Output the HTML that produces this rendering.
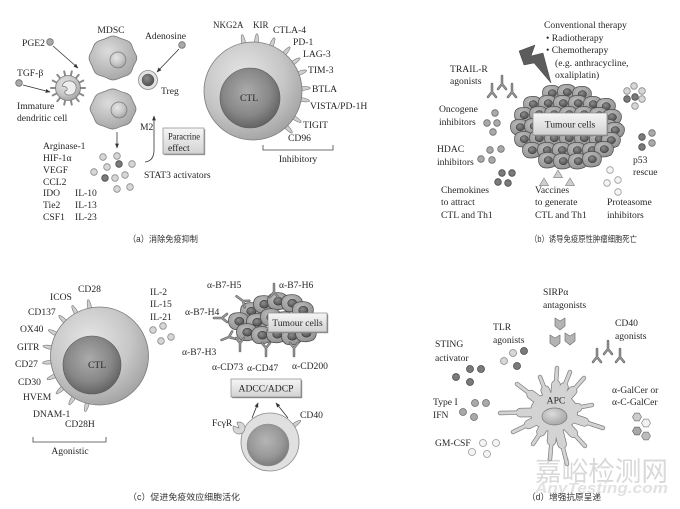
<!DOCTYPE html>
<html><head><meta charset="utf-8">
<style>
html,body{margin:0;padding:0;background:#fff;}
svg{display:block;}
text{font-family:"Liberation Serif","Noto Serif CJK SC",serif;font-size:9.6px;fill:#262626;}
.cap{font-family:"Liberation Sans","Noto Sans CJK SC",sans-serif;font-size:8.8px;fill:#333;}
.L{fill:#d6d6d6;stroke:#8a8a8a;stroke-width:.8}
.M{fill:#a9a9a9;stroke:#6e6e6e;stroke-width:.8}
.D{fill:#7a7a7a;stroke:#4a4a4a;stroke-width:.8}
.W{fill:#f4f4f4;stroke:#9a9a9a;stroke-width:.8}
.ln{fill:none;stroke:#333;stroke-width:.8}
</style></head><body>
<svg width="680" height="509" viewBox="0 0 680 509" xmlns="http://www.w3.org/2000/svg">
<defs>
 <radialGradient id="go" cx="0.4" cy="0.35" r="0.7">
  <stop offset="0" stop-color="#e6e6e6"/><stop offset="0.6" stop-color="#c6c6c6"/><stop offset="1" stop-color="#a0a0a0"/>
 </radialGradient>
 <radialGradient id="gi" cx="0.45" cy="0.4" r="0.65">
  <stop offset="0" stop-color="#ababab"/><stop offset="0.6" stop-color="#878787"/><stop offset="1" stop-color="#5c5c5c"/>
 </radialGradient>
 <linearGradient id="gb" x1="0" y1="0" x2="0" y2="1">
  <stop offset="0" stop-color="#f6f6f6"/><stop offset="1" stop-color="#d2d2d2"/>
 </linearGradient>
 <radialGradient id="gc" cx="0.4" cy="0.35" r="0.75">
  <stop offset="0" stop-color="#bcbcbc"/><stop offset="1" stop-color="#8c8c8c"/>
 </radialGradient>
 <radialGradient id="gn" cx="0.4" cy="0.35" r="0.7">
  <stop offset="0" stop-color="#8c8c8c"/><stop offset="1" stop-color="#4c4c4c"/>
 </radialGradient>
 <radialGradient id="gm" cx="0.4" cy="0.35" r="0.7">
  <stop offset="0" stop-color="#dcdcdc"/><stop offset="1" stop-color="#a4a4a4"/>
 </radialGradient>
 <path id="sp" d="M-2,-1.8 Q5,-2.4 9.5,-0.9 Q11.3,0 9.5,0.9 Q5,2.4 -2,1.8 Z" fill="#d0d0d0" stroke="#858585" stroke-width="0.7"/>
 <g id="ab" fill="none" stroke-linecap="round">
  <path d="M0,-8 L0,0 M0,0 L-4,5 M0,0 L4,5" stroke="#6a6a6a" stroke-width="2.5"/>
  <path d="M0,-8 L0,0 M0,0 L-4,5 M0,0 L4,5" stroke="#a6a6a6" stroke-width="0.9"/>
 </g>
 <g id="tc">
  <path d="M-9.5,-1 Q-9,-7 -2,-7.5 Q6,-8.5 9,-3 Q10.5,2 7,6 Q1,9 -5,7.5 Q-10,5 -9.5,-1 Z" fill="url(#gc)" stroke="#4e4e4e" stroke-width="0.7"/>
  <ellipse cx="0.3" cy="0.2" rx="4.2" ry="3.6" fill="url(#gn)" stroke="#333" stroke-width="0.5"/>
 </g>
 <marker id="ah" viewBox="0 0 10 10" refX="9" refY="5" markerWidth="6" markerHeight="6" orient="auto">
  <path d="M0,1 L10,5 L0,9 Z" fill="#333"/>
 </marker>
</defs>
<rect width="680" height="509" fill="#fff"/>

<!-- ================= PANEL A ================= -->
<text x="22" y="46">PGE2</text>
<circle cx="50" cy="42" r="3.3" class="M"/>
<path class="ln" d="M53,46 L78,68" marker-end="url(#ah)"/>
<text x="17" y="76">TGF-β</text>
<circle cx="19" cy="83" r="3.3" class="M"/>
<path class="ln" d="M23,85 L50,92" marker-end="url(#ah)"/>
<!-- dendritic cell -->
<g stroke="#8a8a8a" stroke-width="2" stroke-linecap="round">
 <path d="M68,88 L85,88 M68,88 L83.3,95.4 M68,88 L78.7,101.2 M68,88 L71.8,104.6 M68,88 L64.2,104.6 M68,88 L57.3,101.2 M68,88 L52.7,95.4 M68,88 L51,88 M68,88 L52.7,80.6 M68,88 L57.3,74.8 M68,88 L64.2,71.4 M68,88 L71.8,71.4 M68,88 L78.7,74.8 M68,88 L83.3,80.6"/>
</g>
<circle cx="68" cy="88" r="12.5" fill="url(#go)" stroke="#7a7a7a" stroke-width="0.8"/>
<path d="M62,86 Q64,80 71,81 Q77,83 76,89 Q75,95 69,95 Q64,95 65,91 Q69,90 66,87 Z" fill="#eeeeee" stroke="#777" stroke-width="0.7"/>
<text x="17" y="109">Immature</text>
<text x="17" y="121">dendritic cell</text>

<text x="111" y="33" text-anchor="middle">MDSC</text>
<path d="M135.65,54.1 Q138,58 135.65,61.9 Q133.3,65.8 132,70.05 Q130.7,74.3 126.15,75.7 Q121.6,77.1 117.3,79.05 Q113,81 108.8,78.85 Q104.6,76.7 99.95,75.5 Q95.3,74.3 93.75,70.1 Q92.2,65.9 90.1,61.95 Q88,58 90.1,54.05 Q92.2,50.1 93.75,45.9 Q95.3,41.7 99.95,40.5 Q104.6,39.3 108.8,37.15 Q113,35 117.3,36.95 Q121.6,38.9 126.15,40.3 Q130.7,41.7 132,45.95 Q133.3,50.2 135.65,54.1 Z" fill="url(#gm)" stroke="#777" stroke-width="0.8"/>
<circle cx="118" cy="60" r="8" fill="url(#go)" stroke="#777" stroke-width="0.7"/>
<path d="M135,105.4 Q137,109 135,112.6 Q133,116.2 131.5,120 Q130,123.8 125.55,124.95 Q121.1,126.1 117.05,128.05 Q113,130 108.85,128.25 Q104.7,126.5 100.35,125.15 Q96,123.8 94.75,119.95 Q93.5,116.1 91.25,112.55 Q89,109 91,105.4 Q93,101.8 94.5,98 Q96,94.2 100.35,92.85 Q104.7,91.5 108.85,89.75 Q113,88 117.05,89.95 Q121.1,91.9 125.55,93.05 Q130,94.2 131.5,98 Q133,101.8 135,105.4 Z" fill="url(#gm)" stroke="#777" stroke-width="0.8"/>
<circle cx="119" cy="110" r="8" fill="url(#go)" stroke="#777" stroke-width="0.7"/>

<text x="145" y="39">Adenosine</text>
<circle cx="182" cy="45" r="3.3" class="M"/>
<path class="ln" d="M179,49 L157,72" marker-end="url(#ah)"/>
<circle cx="148" cy="80" r="9.5" fill="#e2e2e2" stroke="#888" stroke-width="0.8"/>
<circle cx="148" cy="80" r="6" fill="url(#gn)" stroke="#555" stroke-width="0.5"/>
<text x="161" y="94">Treg</text>

<path class="ln" d="M117,132 L117,148" marker-end="url(#ah)"/>
<text x="140" y="130">M2</text>
<path class="ln" d="M145,162 Q154,161 154,150 L154,116" marker-end="url(#ah)"/>
<rect x="164.2" y="129.2" width="41" height="26" fill="#9a9a9a"/>
<rect x="163" y="128" width="41" height="26" fill="url(#gb)" stroke="#888" stroke-width="0.7"/>
<text x="168" y="139.5" textLength="32" lengthAdjust="spacingAndGlyphs">Paracrine</text>
<text x="168" y="151">effect</text>

<circle cx="103" cy="157" r="3.3" class="L"/>
<circle cx="117" cy="156" r="3.3" class="L"/>
<circle cx="94" cy="172" r="3.3" class="L"/>
<circle cx="107" cy="167" r="3.3" class="L"/>
<circle cx="119" cy="164" r="3.3" class="D"/>
<circle cx="132" cy="164" r="3.3" class="L"/>
<circle cx="105" cy="178" r="3.3" class="D"/>
<circle cx="115" cy="178" r="3.3" class="L"/>
<circle cx="125" cy="175" r="3.3" class="L"/>
<circle cx="117" cy="189" r="3.3" class="L"/>
<circle cx="130" cy="187" r="3.3" class="L"/>
<text x="144" y="178">STAT3 activators</text>

<text x="43" y="149">Arginase-1</text>
<text x="43" y="161">HIF-1α</text>
<text x="43" y="173">VEGF</text>
<text x="43" y="185">CCL2</text>
<text x="43" y="196">IDO</text>
<text x="43" y="208">Tie2</text>
<text x="43" y="220">CSF1</text>
<text x="75" y="196">IL-10</text>
<text x="75" y="208">IL-13</text>
<text x="75" y="220">IL-23</text>

<!-- CTL (a) -->
<g>
 <use href="#sp" transform="translate(253,91) rotate(-101) translate(47,0)"/>
 <use href="#sp" transform="translate(253,91) rotate(-86) translate(47,0)"/>
 <use href="#sp" transform="translate(253,91) rotate(-68) translate(47,0)"/>
 <use href="#sp" transform="translate(253,91) rotate(-50) translate(47,0)"/>
 <use href="#sp" transform="translate(253,91) rotate(-35) translate(47,0)"/>
 <use href="#sp" transform="translate(253,91) rotate(-21) translate(47,0)"/>
 <use href="#sp" transform="translate(253,91) rotate(-3) translate(47,0)"/>
 <use href="#sp" transform="translate(253,91) rotate(10) translate(47,0)"/>
 <use href="#sp" transform="translate(253,91) rotate(33) translate(47,0)"/>
 <use href="#sp" transform="translate(253,91) rotate(47) translate(47,0)"/>
</g>
<circle cx="253" cy="91" r="49" fill="url(#go)" stroke="#7a7a7a" stroke-width="0.8"/>
<circle cx="250" cy="98" r="30" fill="url(#gi)" stroke="#5a5a5a" stroke-width="0.6"/>
<text x="249" y="101" text-anchor="middle">CTL</text>
<text x="213" y="28" style="font-size:9px">NKG2A</text>
<text x="253" y="28" style="font-size:9px">KIR</text>
<text x="273" y="33">CTLA-4</text>
<text x="293" y="45">PD-1</text>
<text x="303" y="57">LAG-3</text>
<text x="308" y="73">TIM-3</text>
<text x="312" y="92">BTLA</text>
<text x="310" y="109">VISTA/PD-1H</text>
<text x="303" y="128">TIGIT</text>
<text x="288" y="141">CD96</text>
<path d="M263,145 L263,150 L333,150 L333,145" fill="none" stroke="#444" stroke-width="0.8"/>
<text x="298" y="162" text-anchor="middle">Inhibitory</text>

<text x="128" y="242" class="cap" textLength="70" lengthAdjust="spacingAndGlyphs">（a）消除免疫抑制</text>

<!-- ================= PANEL B ================= -->
<text x="544" y="28">Conventional therapy</text>
<text x="546" y="41">• Radiotherapy</text>
<text x="546" y="53">• Chemotherapy</text>
<text x="555" y="66">(e.g. anthracycline,</text>
<text x="555" y="78">oxaliplatin)</text>
<polygon points="519,51 535,45 531,56 543,53 551,83 534,63 524,65" fill="#5c5c5c" stroke="#444" stroke-width="0.5"/>

<text x="450" y="72">TRAIL-R</text>
<text x="450" y="84">agonists</text>
<use href="#ab" x="492" y="92"/>
<use href="#ab" x="502" y="84"/>
<use href="#ab" x="512" y="92"/>

<text x="439" y="112">Oncogene</text>
<text x="439" y="125">inhibitors</text>
<circle cx="495" cy="113" r="3.3" class="M"/>
<circle cx="487" cy="123" r="3.3" class="M"/>
<circle cx="497" cy="123" r="3.3" class="M"/>
<circle cx="493" cy="132" r="3.3" class="M"/>

<text x="437" y="152">HDAC</text>
<text x="437" y="165">inhibitors</text>
<circle cx="490" cy="150" r="3.3" class="M"/>
<circle cx="501" cy="149" r="3.3" class="M"/>
<circle cx="481" cy="159" r="3.3" class="M"/>
<circle cx="492" cy="160" r="3.3" class="M"/>

<circle cx="502" cy="173" r="3.3" class="D"/>
<circle cx="512" cy="173" r="3.3" class="D"/>
<circle cx="498" cy="182" r="3.3" class="D"/>
<circle cx="508" cy="183" r="3.3" class="D"/>
<text x="441" y="193">Chemokines</text>
<text x="441" y="205">to attract</text>
<text x="441" y="218">CTL and Th1</text>

<polygon points="539.5,185.5 548.5,185.5 544,178" fill="#cfcfcf" stroke="#888" stroke-width="0.7"/>
<polygon points="553.5,177.5 562.5,177.5 558,170" fill="#cfcfcf" stroke="#888" stroke-width="0.7"/>
<polygon points="565.5,185.5 574.5,185.5 570,178" fill="#cfcfcf" stroke="#888" stroke-width="0.7"/>
<text x="535" y="193">Vaccines</text>
<text x="535" y="205">to generate</text>
<text x="535" y="218">CTL and Th1</text>

<circle cx="610" cy="170" r="3.3" class="W"/>
<circle cx="607" cy="183" r="3.3" class="W"/>
<circle cx="618" cy="180" r="3.3" class="W"/>
<circle cx="618" cy="192" r="3.3" class="W"/>
<text x="607" y="205">Proteasome</text>
<text x="607" y="218">inhibitors</text>

<circle cx="642" cy="137" r="3.3" class="D"/>
<circle cx="652" cy="133" r="3.3" class="M"/>
<circle cx="652" cy="143" r="3.3" class="M"/>
<circle cx="642" cy="147" r="3.3" class="D"/>
<text x="633" y="163">p53</text>
<text x="633" y="175">rescue</text>

<circle cx="634" cy="86" r="3.3" class="L"/>
<circle cx="627" cy="91" r="3.3" class="L"/>
<circle cx="642" cy="91" r="3.3" class="L"/>
<circle cx="627" cy="99" r="3.3" class="D"/>
<circle cx="635" cy="97" r="3.3" class="D"/>
<circle cx="642" cy="99" r="3.3" class="L"/>
<circle cx="635" cy="106" r="3.3" class="L"/>

<!-- tumour cluster b -->
<g>
 <use href="#tc" x="552" y="93"/><use href="#tc" x="567" y="92"/><use href="#tc" x="582" y="94"/>
 <use href="#tc" x="533" y="104"/><use href="#tc" x="548" y="103"/><use href="#tc" x="563" y="103"/><use href="#tc" x="578" y="103"/><use href="#tc" x="593" y="104"/><use href="#tc" x="606" y="106"/>
 <use href="#tc" x="524" y="115"/><use href="#tc" x="539" y="114"/><use href="#tc" x="554" y="114"/><use href="#tc" x="569" y="114"/><use href="#tc" x="584" y="114"/><use href="#tc" x="599" y="115"/><use href="#tc" x="612" y="117"/>
 <use href="#tc" x="520" y="127"/><use href="#tc" x="534" y="126"/><use href="#tc" x="549" y="126"/><use href="#tc" x="564" y="126"/><use href="#tc" x="579" y="126"/><use href="#tc" x="594" y="126"/><use href="#tc" x="608" y="127"/><use href="#tc" x="615" y="130"/>
 <use href="#tc" x="524" y="139"/><use href="#tc" x="539" y="138"/><use href="#tc" x="554" y="138"/><use href="#tc" x="569" y="138"/><use href="#tc" x="584" y="138"/><use href="#tc" x="599" y="139"/><use href="#tc" x="611" y="140"/>
 <use href="#tc" x="532" y="150"/><use href="#tc" x="547" y="150"/><use href="#tc" x="562" y="150"/><use href="#tc" x="577" y="150"/><use href="#tc" x="592" y="150"/><use href="#tc" x="604" y="149"/>
 <use href="#tc" x="548" y="160"/><use href="#tc" x="563" y="161"/><use href="#tc" x="578" y="161"/><use href="#tc" x="592" y="159"/>
</g>
<rect x="534.2" y="114.2" width="74" height="22" fill="#8a8a8a"/>
<rect x="533" y="113" width="74" height="22" fill="url(#gb)" stroke="#888" stroke-width="0.7"/>
<text x="570" y="127.5" text-anchor="middle">Tumour cells</text>

<text x="530" y="242" class="cap" textLength="107" lengthAdjust="spacingAndGlyphs">（b）诱导免疫原性肿瘤细胞死亡</text>

<!-- ================= PANEL C ================= -->
<g>
 <use href="#sp" transform="translate(99.5,356) rotate(-101.5) translate(47,0)"/>
 <use href="#sp" transform="translate(99.5,356) rotate(-118.5) translate(47,0)"/>
 <use href="#sp" transform="translate(99.5,356) rotate(-135) translate(47,0)"/>
 <use href="#sp" transform="translate(99.5,356) rotate(-153) translate(47,0)"/>
 <use href="#sp" transform="translate(99.5,356) rotate(-170) translate(47,0)"/>
 <use href="#sp" transform="translate(99.5,356) rotate(173) translate(47,0)"/>
 <use href="#sp" transform="translate(99.5,356) rotate(156) translate(47,0)"/>
 <use href="#sp" transform="translate(99.5,356) rotate(139) translate(47,0)"/>
 <use href="#sp" transform="translate(99.5,356) rotate(122) translate(47,0)"/>
 <use href="#sp" transform="translate(99.5,356) rotate(104.5) translate(47,0)"/>
</g>
<circle cx="99.5" cy="356" r="49" fill="url(#go)" stroke="#7a7a7a" stroke-width="0.8"/>
<circle cx="92" cy="365" r="29" fill="url(#gi)" stroke="#5a5a5a" stroke-width="0.6"/>
<text x="97" y="368" text-anchor="middle">CTL</text>
<text x="78" y="292">CD28</text>
<text x="50" y="300">ICOS</text>
<text x="28" y="315">CD137</text>
<text x="20" y="332">OX40</text>
<text x="17" y="350">GITR</text>
<text x="15" y="367">CD27</text>
<text x="18" y="385">CD30</text>
<text x="23" y="400">HVEM</text>
<text x="33" y="417">DNAM-1</text>
<text x="65" y="427">CD28H</text>
<path d="M33,437 L33,442 L106,442 L106,437" fill="none" stroke="#444" stroke-width="0.8"/>
<text x="70" y="454" text-anchor="middle">Agonistic</text>

<text x="150" y="295">IL-2</text>
<text x="150" y="307">IL-15</text>
<text x="150" y="320">IL-21</text>
<circle cx="153" cy="330" r="3.3" class="L"/>
<circle cx="163" cy="326" r="3.3" class="L"/>
<circle cx="161" cy="341" r="3.3" class="L"/>
<circle cx="171" cy="337" r="3.3" class="L"/>

<!-- tumour cluster c -->
<g>
 <use href="#tc" transform="translate(251,311) scale(1.1)"/>
 <use href="#tc" transform="translate(264,304) scale(1.1)"/>
 <use href="#tc" transform="translate(278,301) scale(1.1)"/>
 <use href="#tc" transform="translate(292,303) scale(1.1)"/>
 <use href="#tc" transform="translate(303,310) scale(1.1)"/>
 <use href="#tc" transform="translate(239,321) scale(1.1)"/>
 <use href="#tc" transform="translate(257,322) scale(1.1)"/>
 <use href="#tc" transform="translate(271,317) scale(1.1)"/>
 <use href="#tc" transform="translate(285,320) scale(1.1)"/>
 <use href="#tc" transform="translate(299,325) scale(1.1)"/>
 <use href="#tc" transform="translate(247,332) scale(1.1)"/>
 <use href="#tc" transform="translate(262,335) scale(1.1)"/>
 <use href="#tc" transform="translate(277,334) scale(1.1)"/>
 <use href="#tc" transform="translate(292,336) scale(1.1)"/>
 <use href="#tc" transform="translate(306,333) scale(1.1)"/>
</g>
<rect x="269.2" y="314.2" width="59" height="19" fill="#8a8a8a"/>
<rect x="268" y="313" width="59" height="19" fill="url(#gb)" stroke="#888" stroke-width="0.7"/>
<text x="297.5" y="326" text-anchor="middle">Tumour cells</text>

<use href="#ab" transform="translate(243,301) rotate(-54)"/>
<use href="#ab" transform="translate(274,292)"/>
<use href="#ab" transform="translate(222,318) rotate(-90)"/>
<use href="#ab" transform="translate(229,337) rotate(-112)"/>
<use href="#ab" transform="translate(240,343) rotate(180)"/>
<use href="#ab" transform="translate(266,348) rotate(180)"/>
<use href="#ab" transform="translate(294,348) rotate(180)"/>
<text x="207" y="288">α-B7-H5</text>
<text x="279" y="288">α-B7-H6</text>
<text x="185" y="315">α-B7-H4</text>
<text x="182" y="355">α-B7-H3</text>
<text x="212" y="370">α-CD73</text>
<text x="247" y="371">α-CD47</text>
<text x="292" y="369">α-CD200</text>

<rect x="232.2" y="380.2" width="70" height="18" fill="#8a8a8a"/>
<rect x="231" y="379" width="70" height="18" fill="url(#gb)" stroke="#888" stroke-width="0.7"/>
<text x="266" y="391.5" text-anchor="middle">ADCC/ADCP</text>
<path class="ln" d="M252,418 L258,403" marker-end="url(#ah)"/>
<path class="ln" d="M288,418 L276,403" marker-end="url(#ah)"/>

<use href="#sp" transform="translate(270,442) rotate(-35) translate(27,0)"/>
<circle cx="270" cy="442" r="29" fill="#e0e0e0" stroke="#8a8a8a" stroke-width="0.8"/>
<circle cx="268" cy="445" r="21" fill="url(#gi)" stroke="#777" stroke-width="0.5" opacity="0.8"/>
<path d="M239,428 L236.9,422.4 A6,6 0 1,1 233.4,425.9 Z" fill="#d6d6d6" stroke="#858585" stroke-width="0.7"/>
<text x="212" y="426">FcγR</text>
<text x="300" y="418">CD40</text>

<text x="128" y="500" class="cap" textLength="112" lengthAdjust="spacingAndGlyphs">（c）促进免疫效应细胞活化</text>

<!-- ================= PANEL D ================= -->
<text x="543" y="295">SIRPα</text>
<text x="543" y="308">antagonists</text>
<g fill="#b4b4b4" stroke="#707070" stroke-width="0.7" stroke-linejoin="round">
 <polygon points="555,318 560,321 565,318 565,326 560,330 555,326"/>
 <polygon points="550,335 555,338 560,335 560,343 555,347 550,343"/>
 <polygon points="565,333 570,336 575,333 575,341 570,345 565,341"/>
</g>

<text x="493" y="330">TLR</text>
<text x="493" y="343">agonists</text>
<circle cx="513" cy="353" r="3.5" class="L"/>
<circle cx="524" cy="351" r="3.5" class="D"/>
<circle cx="504" cy="361" r="3.5" class="L"/>
<circle cx="517" cy="366" r="3.5" class="D"/>

<text x="435" y="347">STING</text>
<text x="435" y="361">activator</text>
<circle cx="470" cy="369" r="3.5" class="D"/>
<circle cx="481" cy="369" r="3.5" class="D"/>
<circle cx="456" cy="377" r="3.5" class="D"/>
<circle cx="470" cy="382" r="3.5" class="D"/>

<text x="615" y="326">CD40</text>
<text x="615" y="339">agonists</text>
<use href="#ab" x="597" y="357"/>
<use href="#ab" x="608" y="349"/>
<use href="#ab" x="620" y="357"/>

<text x="433" y="405">Type I</text>
<text x="433" y="418">IFN</text>
<circle cx="475" cy="403" r="3.5" class="M"/>
<circle cx="486" cy="403" r="3.5" class="M"/>
<circle cx="463" cy="412" r="3.5" class="M"/>
<circle cx="474" cy="417" r="3.5" class="M"/>

<text x="435" y="446">GM-CSF</text>
<circle cx="483" cy="443" r="3.5" class="W"/>
<circle cx="496" cy="443" r="3.5" class="W"/>
<circle cx="472" cy="452" r="3.5" class="W"/>
<circle cx="487" cy="454" r="3.5" class="W"/>

<text x="612" y="393">α-GalCer or</text>
<text x="612" y="405">α-C-GalCer</text>
<polygon points="641.5,417 639.25,420.9 634.75,420.9 632.5,417 634.75,413.1 639.25,413.1" fill="#cdcdcd" stroke="#777" stroke-width="0.7"/>
<polygon points="650.5,423 648.25,426.9 643.75,426.9 641.5,423 643.75,419.1 648.25,419.1" fill="#f2f2f2" stroke="#888" stroke-width="0.7"/>
<polygon points="641.5,431 639.25,434.9 634.75,434.9 632.5,431 634.75,427.1 639.25,427.1" fill="#a8a8a8" stroke="#666" stroke-width="0.7"/>
<polygon points="650.5,436 648.25,439.9 643.75,439.9 641.5,436 643.75,432.1 648.25,432.1" fill="#bdbdbd" stroke="#777" stroke-width="0.7"/>

<!-- watermark -->
<text x="535" y="481" style="font-family:'Noto Sans CJK SC','WenQuanYi Zen Hei',sans-serif;font-size:27px;fill:#d9d9d9" textLength="133" lengthAdjust="spacingAndGlyphs">嘉峪检测网</text>
<text x="535" y="493" style="font-family:'Liberation Sans',sans-serif;font-size:15px;font-style:italic;font-weight:bold;fill:#e2e2e2" textLength="133" lengthAdjust="spacingAndGlyphs">AnyTesting.com</text>

<!-- APC -->
<g stroke-linecap="round" fill="none">
 <g stroke="#7d7d7d">
  <path stroke-width="9.5" d="M554,412 L555.9,384.7 M554,412 L545.3,390.3 M554,412 L531.1,394.6 M554,412 L520.5,412.6 M554,412 L528.6,424.4 M554,412 L541,431.8 M554,412 L551.5,441.1 M554,412 L562.1,444.2 M554,412 L573.2,433.1 M554,412 L584.4,421.9 M554,412 L577.6,407.7 M554,412 L572.6,390.9 M554,412 L563.9,387.2"/>
  <path stroke-width="4.4" d="M555.9,384.7 L557,368 M545.3,390.3 L540,377 M531.1,394.6 L517,384 M520.5,412.6 L500,413 M528.6,424.4 L513,432 M541,431.8 L533,444 M551.5,441.1 L550,459 M562.1,444.2 L567,464 M573.2,433.1 L585,446 M584.4,421.9 L603,428 M577.6,407.7 L592,405 M572.6,390.9 L584,378 M563.9,387.2 L570,372"/>
 </g>
 <ellipse cx="554" cy="412" rx="24" ry="20" fill="#7d7d7d" stroke="none"/>
 <g stroke="#d3d3d3">
  <path stroke-width="8" d="M554,412 L555.9,384.7 M554,412 L545.3,390.3 M554,412 L531.1,394.6 M554,412 L520.5,412.6 M554,412 L528.6,424.4 M554,412 L541,431.8 M554,412 L551.5,441.1 M554,412 L562.1,444.2 M554,412 L573.2,433.1 M554,412 L584.4,421.9 M554,412 L577.6,407.7 M554,412 L572.6,390.9 M554,412 L563.9,387.2"/>
  <path stroke-width="3" d="M555.9,384.7 L557,368 M545.3,390.3 L540,377 M531.1,394.6 L517,384 M520.5,412.6 L500,413 M528.6,424.4 L513,432 M541,431.8 L533,444 M551.5,441.1 L550,459 M562.1,444.2 L567,464 M573.2,433.1 L585,446 M584.4,421.9 L603,428 M577.6,407.7 L592,405 M572.6,390.9 L584,378 M563.9,387.2 L570,372"/>
 </g>
 <ellipse cx="554" cy="412" rx="23.2" ry="19.2" fill="#d3d3d3" stroke="none"/>
</g>
<ellipse cx="554.5" cy="416.5" rx="12.5" ry="8.5" fill="url(#gm)" stroke="#777" stroke-width="0.7"/>
<text x="556" y="403.5" text-anchor="middle">APC</text>

<text x="527" y="500" class="cap" textLength="74" lengthAdjust="spacingAndGlyphs">（d）增强抗原呈递</text>
</svg>
</body></html>
